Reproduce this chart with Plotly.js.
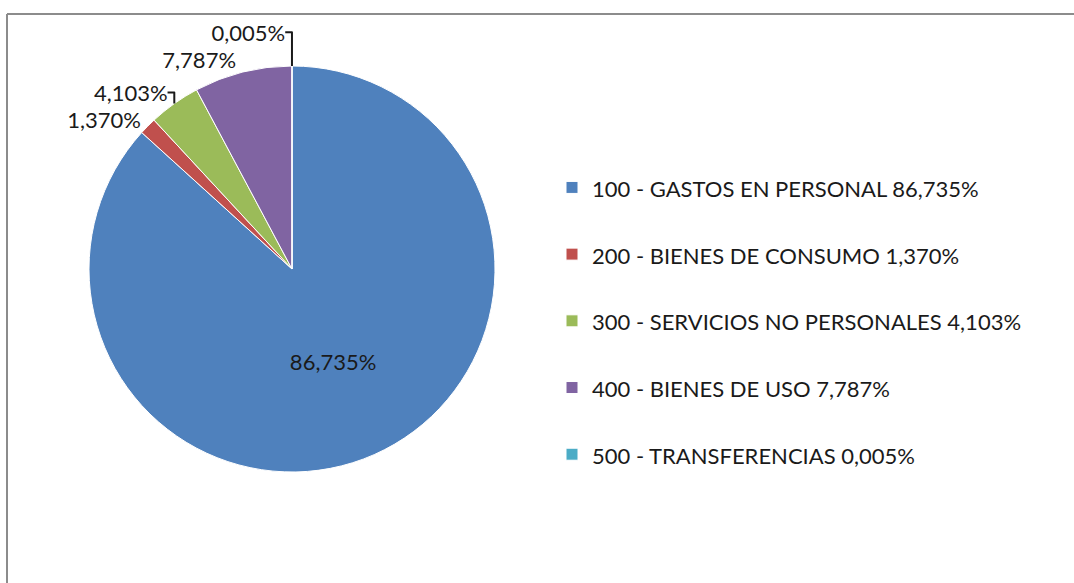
<!DOCTYPE html>
<html>
<head>
<meta charset="utf-8">
<script src="https://cdn.plot.ly/plotly-3.0.1.min.js"></script>
<style>
  html, body { margin: 0; padding: 0; background: #fff; }
  #chart { width: 1074px; height: 583px; }
</style>
</head>
<body>
<div id="chart"></div>
<script>
// partidas presupuestarias y su participación (%)
const categories = [
  "100 - GASTOS EN PERSONAL",
  "200 - BIENES DE CONSUMO",
  "300 - SERVICIOS NO PERSONALES",
  "400 - BIENES DE USO",
  "500 - TRANSFERENCIAS"
];
const shares = [86.735, 1.370, 4.103, 7.787, 0.005];
const colors = ["#4F81BD", "#C0504D", "#9BBB59", "#8064A2", "#4BACC6"];

const fmt = v => v.toFixed(3).replace(".", ",") + "%";

// legend text: label + share, spaced with an empty second line
const legendLabels = categories.map((c, i) =>
  '<span style="font-size:22px">' + c + " " + fmt(shares[i]) + "</span><br> "
);

const W = 1074, H = 583;
const cx = 292, cy = 269, r = 203;
const txtFont = { family: "Lato, sans-serif", size: 22, color: "#1a1a1a" };

let traces = [
  {
    type: "pie",
    labels: legendLabels,
    values: shares,
    text: shares.map(fmt),
    textinfo: "text",
    textposition: ["inside", "outside", "outside", "outside", "outside"],
    sort: false,
    direction: "clockwise",
    rotation: 0,
    marker: {
      colors: colors,
      line: { color: "#ffffff", width: 1 }
    },
    textfont: txtFont,
    insidetextfont: txtFont,
    outsidetextfont: txtFont,
    domain: {
      x: [(cx - r) / W, (cx + r) / W],
      y: [(H - cy - r) / H, (H - cy + r) / H]
    },
    hoverinfo: "none"
  }
];

let layout = {
  width: W,
  height: H,
  margin: { l: 0, r: 0, t: 0, b: 0 },
  paper_bgcolor: "#ffffff",
  showlegend: true,
  legend: {
    x: 552 / W,
    xanchor: "left",
    y: 1 - 165 / H,
    yanchor: "top",
    valign: "top",
    font: { family: "Lato, sans-serif", size: 24.5, color: "#1a1a1a" },
    bgcolor: "rgba(0,0,0,0)"
  },
  shapes: [
    { type: "line", xref: "paper", yref: "paper", x0: 7 / W, x1: 1.05, y0: 1 - 14 / H, y1: 1 - 14 / H,
      line: { color: "#8c8c8c", width: 2 } },
    { type: "line", xref: "paper", yref: "paper", x0: 7 / W, x1: 7 / W, y0: 1 - 14 / H, y1: -0.05,
      line: { color: "#8c8c8c", width: 2 } }
  ]
};

Plotly.newPlot("chart", traces, layout, { staticPlot: true });
</script>
</body>
</html>
